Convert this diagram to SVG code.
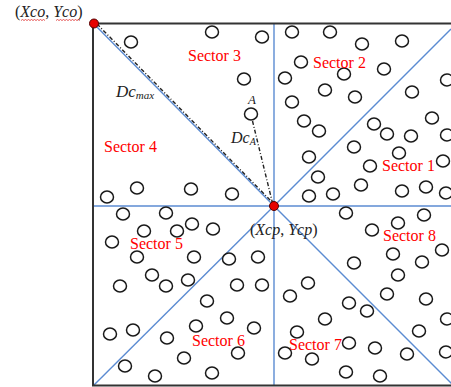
<svg xmlns="http://www.w3.org/2000/svg" width="451" height="387" viewBox="0 0 451 387">
<style>
.b{stroke:#5b8bd2;stroke-width:1.4;fill:none}
.dd{stroke:#222;stroke-width:1.4;fill:none;stroke-dasharray:4 2 1 2}
.fr{stroke:#333;stroke-width:2;fill:none}
.p{fill:#fff;stroke:#1a1a1a;stroke-width:1.5}
.sec{font-family:"Liberation Serif",serif;font-size:16px;fill:#ff0000}
.t{font-family:"Liberation Serif",serif;font-size:16px;fill:#222}
.i{font-style:italic}
.sq{stroke:#e03030;stroke-width:0.8;fill:none}
.dot{fill:#e60000;stroke:#500;stroke-width:1}
</style>
<rect width="451" height="387" fill="#fff"/>
<g id="connectors">
<line class="b" x1="274" y1="24" x2="274" y2="385"/>
<line class="b" x1="93" y1="206" x2="451" y2="206"/>
<line class="b" x1="94" y1="24" x2="274" y2="206"/>
<line class="b" x1="274" y1="206" x2="451" y2="29"/>
<line class="b" x1="274" y1="206" x2="94" y2="385"/>
<line class="b" x1="274" y1="206" x2="453" y2="385"/>
<line class="dd" x1="97" y1="24" x2="273" y2="203"/>
<line class="dd" x1="252.5" y1="121" x2="272.5" y2="203"/>
</g>
<g id="frame">
<path class="fr" d="M451 23.5H93V385.5H451"/>
</g>
<g id="points">
<ellipse class="p" cx="131" cy="42" rx="6.5" ry="5.9"/>
<ellipse class="p" cx="212" cy="32" rx="6.5" ry="5.9"/>
<ellipse class="p" cx="262" cy="37" rx="6.5" ry="5.9"/>
<ellipse class="p" cx="292" cy="32" rx="6.5" ry="5.9"/>
<ellipse class="p" cx="301" cy="62" rx="6.5" ry="5.9"/>
<ellipse class="p" cx="244" cy="79" rx="6.5" ry="5.9"/>
<ellipse class="p" cx="285" cy="78" rx="6.5" ry="5.9"/>
<ellipse class="p" cx="292" cy="102" rx="6.5" ry="5.9"/>
<ellipse class="p" cx="251" cy="114" rx="6.5" ry="5.9"/>
<ellipse class="p" cx="304" cy="121" rx="6.5" ry="5.9"/>
<ellipse class="p" cx="330" cy="32" rx="6.5" ry="5.9"/>
<ellipse class="p" cx="362" cy="44" rx="6.5" ry="5.9"/>
<ellipse class="p" cx="402" cy="41" rx="6.5" ry="5.9"/>
<ellipse class="p" cx="344" cy="74" rx="6.5" ry="5.9"/>
<ellipse class="p" cx="384" cy="69" rx="6.5" ry="5.9"/>
<ellipse class="p" cx="447" cy="80" rx="6.5" ry="5.9"/>
<ellipse class="p" cx="325" cy="90" rx="6.5" ry="5.9"/>
<ellipse class="p" cx="355" cy="97" rx="6.5" ry="5.9"/>
<ellipse class="p" cx="412" cy="92" rx="6.5" ry="5.9"/>
<ellipse class="p" cx="319" cy="131" rx="6.5" ry="5.9"/>
<ellipse class="p" cx="374" cy="124" rx="6.5" ry="5.9"/>
<ellipse class="p" cx="432" cy="118" rx="6.5" ry="5.9"/>
<ellipse class="p" cx="387" cy="134" rx="6.5" ry="5.9"/>
<ellipse class="p" cx="411" cy="136" rx="6.5" ry="5.9"/>
<ellipse class="p" cx="447" cy="135" rx="6.5" ry="5.9"/>
<ellipse class="p" cx="354" cy="147" rx="6.5" ry="5.9"/>
<ellipse class="p" cx="399" cy="153" rx="6.5" ry="5.9"/>
<ellipse class="p" cx="309" cy="157" rx="6.5" ry="5.9"/>
<ellipse class="p" cx="370" cy="166" rx="6.5" ry="5.9"/>
<ellipse class="p" cx="443" cy="161" rx="6.5" ry="5.9"/>
<ellipse class="p" cx="318" cy="177" rx="6.5" ry="5.9"/>
<ellipse class="p" cx="361" cy="185" rx="6.5" ry="5.9"/>
<ellipse class="p" cx="402" cy="191" rx="6.5" ry="5.9"/>
<ellipse class="p" cx="426" cy="187" rx="6.5" ry="5.9"/>
<ellipse class="p" cx="446" cy="193" rx="6.5" ry="5.9"/>
<ellipse class="p" cx="309" cy="196" rx="6.5" ry="5.9"/>
<ellipse class="p" cx="333" cy="194" rx="6.5" ry="5.9"/>
<ellipse class="p" cx="137" cy="188" rx="6.5" ry="5.9"/>
<ellipse class="p" cx="107" cy="197" rx="6.5" ry="5.9"/>
<ellipse class="p" cx="191" cy="189" rx="6.5" ry="5.9"/>
<ellipse class="p" cx="232" cy="194" rx="6.5" ry="5.9"/>
<ellipse class="p" cx="123" cy="214" rx="6.5" ry="5.9"/>
<ellipse class="p" cx="166" cy="213" rx="6.5" ry="5.9"/>
<ellipse class="p" cx="192" cy="224" rx="6.5" ry="5.9"/>
<ellipse class="p" cx="213" cy="229" rx="6.5" ry="5.9"/>
<ellipse class="p" cx="177" cy="231" rx="6.5" ry="5.9"/>
<ellipse class="p" cx="144" cy="231" rx="6.5" ry="5.9"/>
<ellipse class="p" cx="112" cy="242" rx="6.5" ry="5.9"/>
<ellipse class="p" cx="137" cy="257" rx="6.5" ry="5.9"/>
<ellipse class="p" cx="194" cy="257" rx="6.5" ry="5.9"/>
<ellipse class="p" cx="229" cy="259" rx="6.5" ry="5.9"/>
<ellipse class="p" cx="258" cy="257" rx="6.5" ry="5.9"/>
<ellipse class="p" cx="346" cy="213" rx="6.5" ry="5.9"/>
<ellipse class="p" cx="398" cy="223" rx="6.5" ry="5.9"/>
<ellipse class="p" cx="424" cy="215" rx="6.5" ry="5.9"/>
<ellipse class="p" cx="372" cy="230" rx="6.5" ry="5.9"/>
<ellipse class="p" cx="393" cy="254" rx="6.5" ry="5.9"/>
<ellipse class="p" cx="442" cy="250" rx="6.5" ry="5.9"/>
<ellipse class="p" cx="152" cy="275" rx="6.5" ry="5.9"/>
<ellipse class="p" cx="120" cy="286" rx="6.5" ry="5.9"/>
<ellipse class="p" cx="110" cy="334" rx="6.5" ry="5.9"/>
<ellipse class="p" cx="133" cy="330" rx="6.5" ry="5.9"/>
<ellipse class="p" cx="125" cy="366" rx="6.5" ry="5.9"/>
<ellipse class="p" cx="155" cy="376" rx="6.5" ry="5.9"/>
<ellipse class="p" cx="166" cy="286" rx="6.5" ry="5.9"/>
<ellipse class="p" cx="188" cy="280" rx="6.5" ry="5.9"/>
<ellipse class="p" cx="237" cy="285" rx="6.5" ry="5.9"/>
<ellipse class="p" cx="262" cy="285" rx="6.5" ry="5.9"/>
<ellipse class="p" cx="207" cy="301" rx="6.5" ry="5.9"/>
<ellipse class="p" cx="290" cy="296" rx="6.5" ry="5.9"/>
<ellipse class="p" cx="308" cy="283" rx="6.5" ry="5.9"/>
<ellipse class="p" cx="227" cy="318" rx="6.5" ry="5.9"/>
<ellipse class="p" cx="196" cy="326" rx="6.5" ry="5.9"/>
<ellipse class="p" cx="254" cy="328" rx="6.5" ry="5.9"/>
<ellipse class="p" cx="167" cy="338" rx="6.5" ry="5.9"/>
<ellipse class="p" cx="297" cy="332" rx="6.5" ry="5.9"/>
<ellipse class="p" cx="238" cy="353" rx="6.5" ry="5.9"/>
<ellipse class="p" cx="184" cy="358" rx="6.5" ry="5.9"/>
<ellipse class="p" cx="285" cy="353" rx="6.5" ry="5.9"/>
<ellipse class="p" cx="312" cy="359" rx="6.5" ry="5.9"/>
<ellipse class="p" cx="212" cy="373" rx="6.5" ry="5.9"/>
<ellipse class="p" cx="354" cy="263" rx="6.5" ry="5.9"/>
<ellipse class="p" cx="422" cy="262" rx="6.5" ry="5.9"/>
<ellipse class="p" cx="398" cy="275" rx="6.5" ry="5.9"/>
<ellipse class="p" cx="387" cy="294" rx="6.5" ry="5.9"/>
<ellipse class="p" cx="426" cy="299" rx="6.5" ry="5.9"/>
<ellipse class="p" cx="349" cy="303" rx="6.5" ry="5.9"/>
<ellipse class="p" cx="367" cy="311" rx="6.5" ry="5.9"/>
<ellipse class="p" cx="325" cy="319" rx="6.5" ry="5.9"/>
<ellipse class="p" cx="447" cy="319" rx="6.5" ry="5.9"/>
<ellipse class="p" cx="419" cy="331" rx="6.5" ry="5.9"/>
<ellipse class="p" cx="349" cy="343" rx="6.5" ry="5.9"/>
<ellipse class="p" cx="375" cy="348" rx="6.5" ry="5.9"/>
<ellipse class="p" cx="407" cy="354" rx="6.5" ry="5.9"/>
<ellipse class="p" cx="446" cy="352" rx="6.5" ry="5.9"/>
<ellipse class="p" cx="346" cy="372" rx="6.5" ry="5.9"/>
<ellipse class="p" cx="380" cy="376" rx="6.5" ry="5.9"/>
</g>
<g id="corner-point">
<circle class="dot" cx="94" cy="23.5" r="4.5"/>
<text class="t" x="15" y="17">(<tspan class="i">Xco</tspan>, <tspan class="i">Yco</tspan>)</text>
<path class="sq" d="M21 20.5l1.5-1 1.5 1 1.5-1 1.5 1 1.5-1 1.5 1 1.5-1 1.5 1 1.5-1 1.5 1 1.5-1 1.5 1 1.5-1 1.5 1 1.5-1 1.5 1"/>
<path class="sq" d="M56 20.5l1.5-1 1.5 1 1.5-1 1.5 1 1.5-1 1.5 1 1.5-1 1.5 1 1.5-1 1.5 1 1.5-1 1.5 1 1.5-1 1.5 1 1.5-1 1.5 1"/>
</g>
<g id="center-point">
<circle class="dot" cx="274" cy="206" r="4.5"/>
<text class="t" x="250" y="235">(<tspan class="i">Xcp</tspan>, <tspan class="i">Ycp</tspan>)</text>
</g>
<g id="labels">
<text class="t i" x="116" y="97" style="font-size:17px">Dc<tspan style="font-size:11px" dy="2">max</tspan></text>
<text class="t i" x="248" y="104" style="font-size:13px">A</text>
<text class="t i" x="231" y="143">Dc<tspan style="font-size:10px" dy="2">A</tspan></text>
<text class="sec" x="188" y="61">Sector 3</text>
<text class="sec" x="313" y="68">Sector 2</text>
<text class="sec" x="104" y="152">Sector 4</text>
<text class="sec" x="382" y="171">Sector 1</text>
<text class="sec" x="130" y="249">Sector 5</text>
<text class="sec" x="383" y="241">Sector 8</text>
<text class="sec" x="192" y="346">Sector 6</text>
<text class="sec" x="289" y="350">Sector 7</text>
</g>
</svg>
